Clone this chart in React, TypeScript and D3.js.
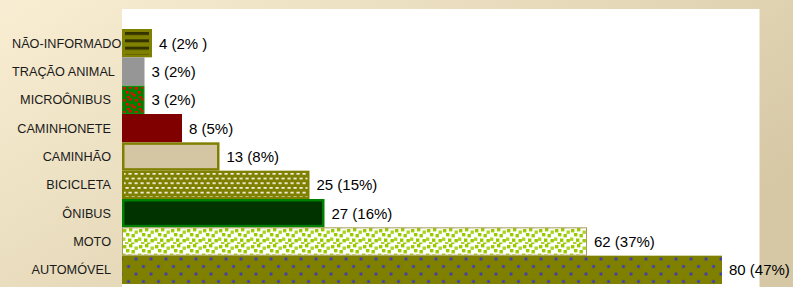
import React, { useEffect, useRef } from "react";
import * as d3 from "d3";

const categories = [
  "NÃO-INFORMADO",
  "TRAÇÃO ANIMAL",
  "MICROÔNIBUS",
  "CAMINHONETE",
  "CAMINHÃO",
  "BICICLETA",
  "ÔNIBUS",
  "MOTO",
  "AUTOMÓVEL",
];
const values = [4, 3, 3, 8, 13, 25, 27, 62, 80];
const valueLabels = [
  "4 (2% )",
  "3 (2%)",
  "3 (2%)",
  "8 (5%)",
  "13 (8%)",
  "25 (15%)",
  "27 (16%)",
  "62 (37%)",
  "80 (47%)",
];

// style per bar (fill / pattern id, stroke, stroke width)
const barStyles = [
  { fill: "url(#pNao)", stroke: "#808000", sw: 3 },
  { fill: "#969696", stroke: "none", sw: 0 },
  { fill: "url(#pMicro)", stroke: "#0a8a0a", sw: 1.2 },
  { fill: "#800000", stroke: "none", sw: 0 },
  { fill: "#d4c6a2", stroke: "#808000", sw: 2.5 },
  { fill: "url(#pBici)", stroke: "#808000", sw: 2 },
  { fill: "#003300", stroke: "#008000", sw: 2.5 },
  { fill: "url(#pMoto)", stroke: "#a89a5a", sw: 1 },
  { fill: "url(#pAuto)", stroke: "none", sw: 0 },
];

const W = 793;
const H = 287;

export default function App() {
  const ref = useRef<SVGSVGElement | null>(null);

  useEffect(() => {
    document.body.style.margin = "0";
    const svg = d3.select(ref.current);
    svg.selectAll("*").remove();

    const defs = svg.append("defs");
    const bg = defs
      .append("linearGradient")
      .attr("id", "bgGrad")
      .attr("x1", "0")
      .attr("y1", "0")
      .attr("x2", "1")
      .attr("y2", "0.6");
    bg.append("stop").attr("offset", "0").attr("stop-color", "#f9eed3");
    bg.append("stop").attr("offset", "1").attr("stop-color", "#d6c8a5");

    // NÃO-INFORMADO: olive with dark stripes
    const pNao = defs
      .append("pattern")
      .attr("id", "pNao")
      .attr("patternUnits", "userSpaceOnUse")
      .attr("x", 0)
      .attr("y", 32)
      .attr("width", 10)
      .attr("height", 7.33);
    pNao.append("rect").attr("width", 10).attr("height", 7.33).attr("fill", "#808000");
    pNao.append("rect").attr("width", 10).attr("height", 3).attr("fill", "#333300");

    // MICROÔNIBUS: green with red squares
    const pMicro = defs
      .append("pattern")
      .attr("id", "pMicro")
      .attr("patternUnits", "userSpaceOnUse")
      .attr("x", 121)
      .attr("y", 86)
      .attr("width", 12)
      .attr("height", 12);
    pMicro.append("rect").attr("width", 12).attr("height", 12).attr("fill", "#008000");
    [
      [2, 1],
      [8, 0],
      [5, 5],
      [10, 6],
      [0, 8],
      [6, 10],
    ].forEach(([x, y]) =>
      pMicro.append("rect").attr("x", x).attr("y", y).attr("width", 2.6).attr("height", 2.6).attr("fill", "#ff0000")
    );

    // BICICLETA: olive with white dashes
    const pBici = defs
      .append("pattern")
      .attr("id", "pBici")
      .attr("patternUnits", "userSpaceOnUse")
      .attr("x", 122)
      .attr("y", 172)
      .attr("width", 6)
      .attr("height", 9.4);
    pBici.append("rect").attr("width", 6).attr("height", 9.4).attr("fill", "#808000");
    pBici.append("rect").attr("x", 0.5).attr("y", 1).attr("width", 3.2).attr("height", 1.6).attr("fill", "#fafaf0");
    pBici.append("rect").attr("x", 3.5).attr("y", 5.7).attr("width", 3.2).attr("height", 1.6).attr("fill", "#fafaf0");
    pBici.append("rect").attr("x", -2.5).attr("y", 5.7).attr("width", 3.2).attr("height", 1.6).attr("fill", "#fafaf0");

    // MOTO: white with yellow-green squares
    const pMoto = defs
      .append("pattern")
      .attr("id", "pMoto")
      .attr("patternUnits", "userSpaceOnUse")
      .attr("x", 122)
      .attr("y", 228)
      .attr("width", 16)
      .attr("height", 16);
    pMoto.append("rect").attr("width", 16).attr("height", 16).attr("fill", "#ffffff");
    [
      [1, 1],
      [7, 0],
      [12.5, 2.5],
      [4, 5],
      [9.5, 6],
      [0, 9.5],
      [6, 10.5],
      [12.5, 11],
      [3, 14],
      [9, 14.5],
    ].forEach(([x, y], i) =>
      pMoto
        .append("rect")
        .attr("x", x)
        .attr("y", y)
        .attr("width", 3.4)
        .attr("height", 3.4)
        .attr("fill", i % 3 === 2 ? "#aad42a" : "#99cc00")
    );

    // AUTOMÓVEL: olive with blue dots
    const pAuto = defs
      .append("pattern")
      .attr("id", "pAuto")
      .attr("patternUnits", "userSpaceOnUse")
      .attr("x", 128.5)
      .attr("y", 251.5)
      .attr("width", 15)
      .attr("height", 15);
    pAuto.append("rect").attr("width", 15).attr("height", 15).attr("fill", "#808000");
    [
      [0, 0],
      [15, 0],
      [0, 15],
      [15, 15],
      [7.5, 7.5],
    ].forEach(([x, y]) => {
      pAuto.append("rect").attr("x", x - 1.5).attr("y", y - 1.5).attr("width", 3).attr("height", 3).attr("fill", "#5a5a50");
      pAuto.append("rect").attr("x", x - 1).attr("y", y - 1).attr("width", 2).attr("height", 2).attr("fill", "#2a2aff");
    });

    // background
    svg.append("rect").attr("width", W).attr("height", H).attr("fill", "url(#bgGrad)");
    // plot area
    const plotL = 122;
    const plotR = 759.5;
    const plotT = 9;
    svg
      .append("rect")
      .attr("x", plotL)
      .attr("y", plotT)
      .attr("width", plotR - plotL)
      .attr("height", H - plotT)
      .attr("fill", "#ffffff");

    const x = d3.scaleLinear().domain([0, 85]).range([plotL, plotR]);
    const y = d3.scaleBand<string>().domain(categories).range([29, 284]).padding(0);

    const g = svg.append("g");
    categories.forEach((c, i) => {
      const st = barStyles[i];
      const x0 = x(0);
      const x1 = x(values[i]);
      const y0 = y(c)!;
      const bh = y.bandwidth();
      g.append("rect")
        .attr("x", x0 + st.sw / 2)
        .attr("y", y0 + st.sw / 2)
        .attr("width", x1 - x0 - st.sw)
        .attr("height", bh - st.sw)
        .attr("fill", st.fill)
        .attr("stroke", st.stroke)
        .attr("stroke-width", st.sw);
    });

    // value labels
    categories.forEach((c, i) => {
      svg
        .append("text")
        .attr("x", x(values[i]) + 7)
        .attr("y", y(c)! + y.bandwidth() / 2)
        .attr("dy", "0.36em")
        .attr("font-family", "'Liberation Sans', Arial, sans-serif")
        .attr("font-size", 15)
        .attr("fill", "#000")
        .text(valueLabels[i]);
    });

    // category labels
    const labelRight = 111;
    const minLeft = 12;
    categories.forEach((c) => {
      const t = svg
        .append("text")
        .attr("y", y(c)! + y.bandwidth() / 2)
        .attr("dy", "0.36em")
        .attr("font-family", "'Liberation Sans', Arial, sans-serif")
        .attr("font-size", 12.7)
        .attr("fill", "#1a1a1a")
        .attr("text-anchor", "start")
        .text(c);
      const w = (t.node() as SVGTextElement).getComputedTextLength();
      const left = Math.max(minLeft, labelRight - w);
      t.attr("x", left);
    });
  }, []);

  return <svg ref={ref} width={W} height={H} style={{ display: "block" }} />;
}
